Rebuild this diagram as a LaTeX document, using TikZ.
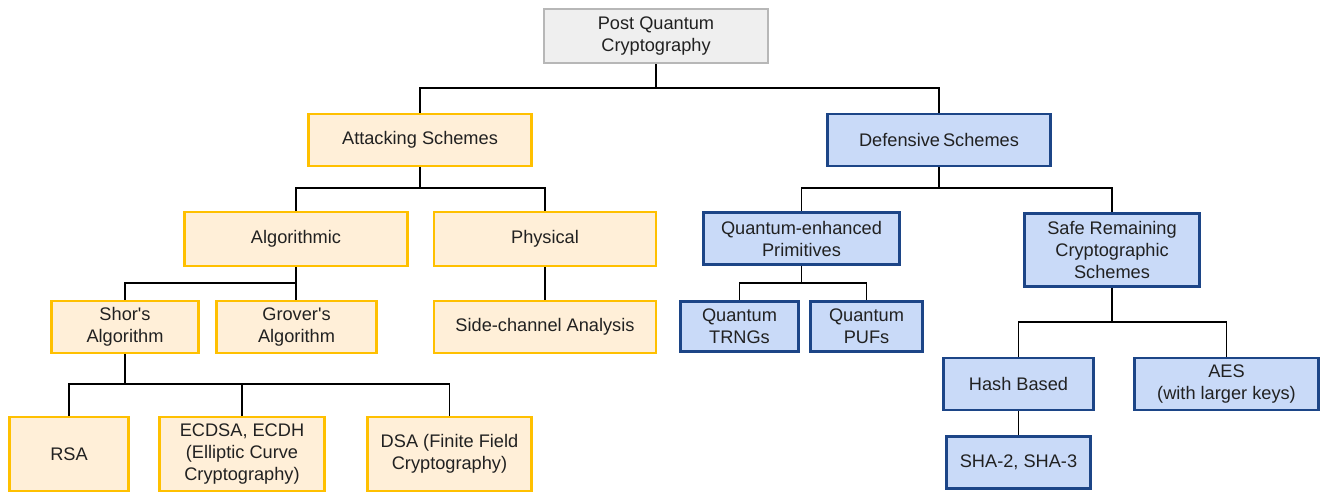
\documentclass[tikz,border=0pt]{standalone}
\usepackage{fontspec}
\setmainfont{Liberation Sans}
\definecolor{grayfill}{HTML}{EFEFEF}
\definecolor{grayline}{HTML}{B7B7B7}
\definecolor{orfill}{HTML}{FFEFD8}
\definecolor{orline}{HTML}{FFC000}
\definecolor{blfill}{HTML}{C9DAF8}
\definecolor{blline}{HTML}{1C4587}
\definecolor{txt}{HTML}{212121}
\tikzset{
  base/.style={rectangle, align=center, inner sep=2pt, text=txt,
    font=\fontsize{18.2}{22}\selectfont},
  graybox/.style={base, fill=grayfill, draw=grayline, line width=2pt},
  orbox/.style={base, fill=orfill, draw=orline, line width=2.5pt},
  blbox/.style={base, fill=blfill, draw=blline, line width=2.5pt},
  conn/.style={draw=black, line width=1.8pt},
}
\newcommand{\bx}[6]{\node[#1, minimum width=#4pt, minimum height=#5pt] (#2) at (#3) {#6};}
\begin{document}
\begin{tikzpicture}[x=1pt,y=-1pt]
\useasboundingbox[fill=white] (0,0) rectangle (1321,493);
\bx{graybox}{root}{656,36}{224}{54}{Post Quantum\\Cryptography}
\bx{orbox}{att}{420,140}{223}{52}{Attacking Schemes}
\bx{blbox}{def}{939,140}{223}{52}{Defensive\,Schemes}
\bx{orbox}{alg}{296,239}{223}{54}{Algorithmic}
\bx{orbox}{phy}{545,239}{222}{54}{Physical}
\bx{blbox}{qep}{801.5,238.5}{196}{52}{Quantum-enhanced\\Primitives}
\bx{blbox}{srcs}{1112,250}{175}{73}{Safe Remaining\\Cryptographic\\Schemes}
\bx{orbox}{shor}{125,327}{147}{52}{Shor\textquotesingle s\\Algorithm}
\bx{orbox}{grov}{296.5,327}{160}{52}{Grover\textquotesingle s\\Algorithm}
\bx{orbox}{side}{545,327}{222}{52}{Side-channel Analysis}
\bx{blbox}{trng}{739.5,326.5}{118}{50}{Quantum\\TRNGs}
\bx{blbox}{puf}{866.5,326.5}{112}{50}{Quantum\\PUFs}
\bx{orbox}{rsa}{69,454}{119}{74}{RSA}
\bx{orbox}{ecdsa}{242,454}{165}{74}{ECDSA, ECDH\\(Elliptic Curve\\Cryptography)}
\bx{orbox}{dsa}{449.5,454}{164}{74}{DSA (Finite Field\\Cryptography)}
\bx{blbox}{hash}{1018.5,384}{150}{52}{Hash Based}
\bx{blbox}{aes}{1226.5,384}{184}{52}{AES\\(with larger keys)}
\bx{blbox}{sha}{1018.5,462.5}{144}{52}{SHA-2, SHA-3}
\draw[conn] (root.south) -- ++(0,24) -| (att.north);
\draw[conn] (root.south) -- ++(0,24) -| (def.north);
\draw[conn] (att.south) -- ++(0,21) -| (alg.north);
\draw[conn] (att.south) -- ++(0,21) -| (phy.north);
\draw[conn] (def.south) -- ++(0,21) -| (qep.north);
\draw[conn] (def.south) -- ++(0,21) -| (srcs.north);
\draw[conn] (alg.south) -- (alg.south |- grov.north);
\draw[conn] (alg.south) -- ++(0,16) -| (shor.north);
\draw[conn] (phy.south) -- (side.north);
\draw[conn] (qep.south) -- ++(0,17) -| (trng.north);
\draw[conn] (qep.south) -- ++(0,17) -| (puf.north);
\draw[conn] (shor.south) -- ++(0,30) -| (rsa.north);
\draw[conn] (shor.south) -- ++(0,30) -| (ecdsa.north);
\draw[conn] (shor.south) -- ++(0,30) -| (dsa.north);
\draw[conn] (srcs.south) -- ++(0,34) -| (hash.north);
\draw[conn] (srcs.south) -- ++(0,34) -| (aes.north);
\draw[conn] (hash.south) -- (sha.north);
\end{tikzpicture}
\end{document}
